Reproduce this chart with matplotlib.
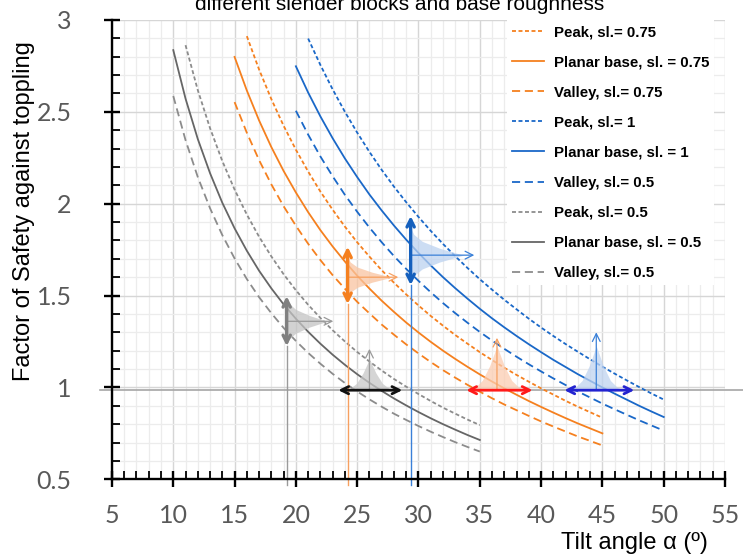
import numpy as np
import matplotlib.pyplot as plt
from matplotlib.ticker import MultipleLocator, FormatStrFormatter

# --- FoS curves (1 deg steps) ---
ang_05 = np.arange(10, 36)
planar_05 = [2.836, 2.572, 2.352, 2.166, 2.005, 1.866, 1.744, 1.635, 1.539, 1.452,
             1.374, 1.303, 1.238, 1.178, 1.123, 1.072, 1.025, 0.981, 0.940, 0.902,
             0.866, 0.832, 0.800, 0.770, 0.741, 0.714]
valley_05 = [2.586, 2.346, 2.145, 1.975, 1.829, 1.702, 1.590, 1.491, 1.404, 1.324,
             1.253, 1.188, 1.129, 1.074, 1.024, 0.978, 0.935, 0.895, 0.857, 0.823,
             0.790, 0.759, 0.730, 0.702, 0.676, 0.651]
ang_05_peak = np.arange(11, 36)
peak_05 = [2.863, 2.618, 2.411, 2.232, 2.077, 1.941, 1.820, 1.713, 1.616, 1.529,
           1.450, 1.378, 1.311, 1.250, 1.193, 1.141, 1.092, 1.046, 1.004, 0.964,
           0.926, 0.890, 0.857, 0.825, 0.795]

ang_075 = np.arange(15, 46)
planar_075 = [2.799, 2.616, 2.453, 2.308, 2.178, 2.061, 1.954, 1.856, 1.767, 1.685,
              1.608, 1.538, 1.472, 1.411, 1.353, 1.299, 1.248, 1.200, 1.155, 1.112,
              1.071, 1.032, 0.995, 0.960, 0.926, 0.894, 0.863, 0.833, 0.804, 0.777,
              0.750]
valley_075 = [2.553, 2.386, 2.237, 2.105, 1.986, 1.880, 1.782, 1.693, 1.611, 1.537,
              1.466, 1.403, 1.342, 1.287, 1.234, 1.185, 1.138, 1.094, 1.053, 1.014,
              0.977, 0.941, 0.907, 0.876, 0.845, 0.815, 0.787, 0.760, 0.733, 0.709,
              0.684]
ang_075_peak = np.arange(16, 46)
peak_075 = [2.912, 2.730, 2.569, 2.424, 2.294, 2.175, 2.066, 1.967, 1.875, 1.790,
            1.712, 1.638, 1.570, 1.506, 1.446, 1.389, 1.336, 1.285, 1.238, 1.192,
            1.149, 1.107, 1.068, 1.031, 0.995, 0.961, 0.927, 0.895, 0.865, 0.835]

ang_1 = np.arange(20, 51)
planar_1 = [2.748, 2.605, 2.475, 2.356, 2.246, 2.145, 2.050, 1.963, 1.881, 1.804,
            1.732, 1.664, 1.600, 1.540, 1.483, 1.428, 1.376, 1.327, 1.280, 1.235,
            1.192, 1.150, 1.111, 1.072, 1.036, 1.000, 0.966, 0.933, 0.900, 0.869,
            0.839]
valley_1 = [2.506, 2.376, 2.257, 2.149, 2.048, 1.956, 1.870, 1.790, 1.715, 1.645,
            1.580, 1.518, 1.459, 1.404, 1.352, 1.302, 1.255, 1.210, 1.167, 1.126,
            1.087, 1.049, 1.013, 0.978, 0.945, 0.912, 0.881, 0.851, 0.821, 0.793,
            0.765]
ang_1_peak = np.arange(21, 51)
peak_1 = [2.899, 2.755, 2.622, 2.500, 2.387, 2.282, 2.184, 2.093, 2.008, 1.928,
          1.852, 1.781, 1.714, 1.650, 1.589, 1.532, 1.477, 1.425, 1.374, 1.326,
          1.280, 1.236, 1.194, 1.153, 1.113, 1.075, 1.038, 1.002, 0.967, 0.934]

# --- annotation values (tilt angle / FoS) ---
ref_fos = 0.985
# vertical double arrows: angle, FoS low, FoS high
v_arrow_x = [19.25, 24.22, 29.36]
v_arrow_lo = [1.225, 1.454, 1.557]
v_arrow_hi = [1.497, 1.766, 1.933]
# sideways distributions: centre FoS, half spread, length in angle, arrow tip angle
side_yc = [1.36, 1.60, 1.72]
side_half = [0.13, 0.11, 0.15]
side_len = [3.3, 3.6, 4.3]
side_tip = [23.05, 28.35, 34.55]
# horizontal double arrows at FoS=1: angle low, angle high
h_arrow_lo = [23.46, 33.9, 41.9]
h_arrow_hi = [28.68, 39.3, 47.6]
# upright distributions: centre angle, half spread, height, arrow tip FoS
up_xc = [26.0, 36.4, 44.5]
up_half = [2.1, 2.4, 2.3]
up_height = [0.17, 0.24, 0.24]
up_tip = [1.21, 1.27, 1.30]
# bell profile
prof_t = [-1, -0.75, -0.5, -0.25, 0, 0.25, 0.5, 0.75, 1]
prof_h = [0, 0.06, 0.22, 0.55, 1, 0.55, 0.22, 0.06, 0]

ORANGE = "#F5801F"
BLUE = "#1A68C8"
GREY_D = "#666666"
GREY = "#8C8C8C"
SHORT = (2.2, 1.4)
LONG = (4.5, 2.6)

fig = plt.figure(figsize=(7.43, 5.55), dpi=100)
ax = fig.add_axes([0.1507, 0.1364, 0.8251, 0.8276])

lw = 1.3
ax.plot(ang_075_peak, peak_075, color=ORANGE, lw=lw, dashes=SHORT, label="Peak, sl.= 0.75")
ax.plot(ang_075, planar_075, color=ORANGE, lw=lw, label="Planar base, sl. = 0.75")
ax.plot(ang_075, valley_075, color=ORANGE, lw=lw, dashes=LONG, label="Valley, sl.= 0.75")
ax.plot(ang_1_peak, peak_1, color=BLUE, lw=lw, dashes=SHORT, label="Peak, sl.= 1")
ax.plot(ang_1, planar_1, color=BLUE, lw=lw, label="Planar base, sl. = 1")
ax.plot(ang_1, valley_1, color=BLUE, lw=lw, dashes=LONG, label="Valley, sl.= 0.5")
ax.plot(ang_05_peak, peak_05, color=GREY, lw=lw, dashes=SHORT, label="Peak, sl.= 0.5")
ax.plot(ang_05, planar_05, color=GREY_D, lw=lw, label="Planar base, sl. = 0.5")
ax.plot(ang_05, valley_05, color=GREY, lw=lw, dashes=LONG, label="Valley, sl.= 0.5")

# reference line FoS = 1
ax.plot([4.0, 56.6], [ref_fos, ref_fos], color="#A6A6A6", lw=1.2, clip_on=False, zorder=1.5)

# sideways distributions with vertical arrows
v_cols = ["#808080", ORANGE, "#1560BD"]
thin_cols = ["#9A9A9A", "#F7A060", "#3A80D8"]
fill_cols = ["#C4C4C4", "#F9C4A0", "#BCD2F0"]
for i in range(3):
    x0 = v_arrow_x[i]
    yy = side_yc[i] + side_half[i] * np.array(prof_t)
    ax.fill_betweenx(yy, x0, x0 + side_len[i] * np.array(prof_h),
                     color=fill_cols[i], alpha=0.75, lw=0, zorder=2)
    ax.plot([x0, x0], [0.47, v_arrow_lo[i]], color=thin_cols[i], lw=1.0,
            clip_on=False, zorder=2.5)
    ax.annotate("", xy=(side_tip[i], side_yc[i]), xytext=(x0, side_yc[i]),
                arrowprops=dict(arrowstyle="->", color=thin_cols[i], lw=0.9,
                                shrinkA=0, shrinkB=0, mutation_scale=14), zorder=3)
    ax.annotate("", xy=(x0, v_arrow_hi[i]), xytext=(x0, v_arrow_lo[i]),
                arrowprops=dict(arrowstyle="<->", color=v_cols[i], lw=2.4,
                                shrinkA=0, shrinkB=0, mutation_scale=13), zorder=4)

# upright distributions with horizontal arrows
h_cols = ["#111111", "#FF1A1A", "#2323D0"]
up_fill = ["#C8C8C8", "#FBCDB2", "#BFD3F0"]
up_thin = ["#9A9A9A", "#F7A060", "#3A80D8"]
for i in range(3):
    xx = up_xc[i] + up_half[i] * np.array(prof_t)
    ax.fill_between(xx, ref_fos, ref_fos + up_height[i] * np.array(prof_h),
                    color=up_fill[i], alpha=0.75, lw=0, zorder=2)
    ax.annotate("", xy=(up_xc[i], up_tip[i]), xytext=(up_xc[i], ref_fos),
                arrowprops=dict(arrowstyle="->", color=up_thin[i], lw=0.9,
                                shrinkA=0, shrinkB=0, mutation_scale=14), zorder=3)
    ax.annotate("", xy=(h_arrow_hi[i], ref_fos), xytext=(h_arrow_lo[i], ref_fos),
                arrowprops=dict(arrowstyle="<->", color=h_cols[i], lw=2.0,
                                shrinkA=0, shrinkB=0, mutation_scale=13), zorder=4)

ax.set_xlim(5, 55)
ax.set_ylim(0.5, 3)
ax.xaxis.set_major_locator(MultipleLocator(5))
ax.xaxis.set_minor_locator(MultipleLocator(1))
ax.yaxis.set_major_locator(MultipleLocator(0.5))
ax.yaxis.set_minor_locator(MultipleLocator(0.1))
ax.yaxis.set_major_formatter(FormatStrFormatter("%g"))
ax.grid(which="major", color="#D6D6D6", lw=1.0, zorder=0)
ax.grid(which="minor", color="#ECECEC", lw=0.9, zorder=0)
ax.set_axisbelow(True)

for s in ["top", "right"]:
    ax.spines[s].set_visible(False)
for s in ["left", "bottom"]:
    ax.spines[s].set_linewidth(1.7)
    ax.spines[s].set_zorder(5)

ax.tick_params(which="major", direction="inout", length=12, width=1.7)
ax.tick_params(which="minor", direction="in", length=5.5, width=1.3)
ax.tick_params(axis="x", which="major", pad=12, labelsize=18, labelcolor="#595959")
ax.tick_params(axis="y", which="major", pad=23, labelsize=18, labelcolor="#595959")
for lab in ax.get_xticklabels() + ax.get_yticklabels():
    lab.set_family("Lato")

fig.text(0.032, 0.62, "Factor of Safety against toppling", rotation=90,
         ha="center", va="center", fontsize=17, family="Liberation Sans")
fig.text(708 / 743, 1 - 543 / 555, "Tilt angle \u03b1 (\u00ba)", ha="right", va="center",
         fontsize=17, family="Liberation Sans")
fig.text(0.538, 1 - 10 / 555, "different slender blocks and base roughness",
         ha="center", va="baseline", fontsize=15, family="Liberation Sans")

leg = ax.legend(loc="upper left", bbox_to_anchor=(507 / 743, 1 - 20.3 / 555),
                bbox_transform=fig.transFigure, frameon=True, facecolor="white",
                edgecolor="none", framealpha=1, fancybox=False, borderpad=0.35,
                borderaxespad=0, handlelength=2.1, handletextpad=0.65,
                labelspacing=1.07, prop={"family": "Liberation Sans", "weight": "bold",
                                         "size": 10.8})
leg.set_zorder(10)

fig.savefig("out.png", dpi=100)
